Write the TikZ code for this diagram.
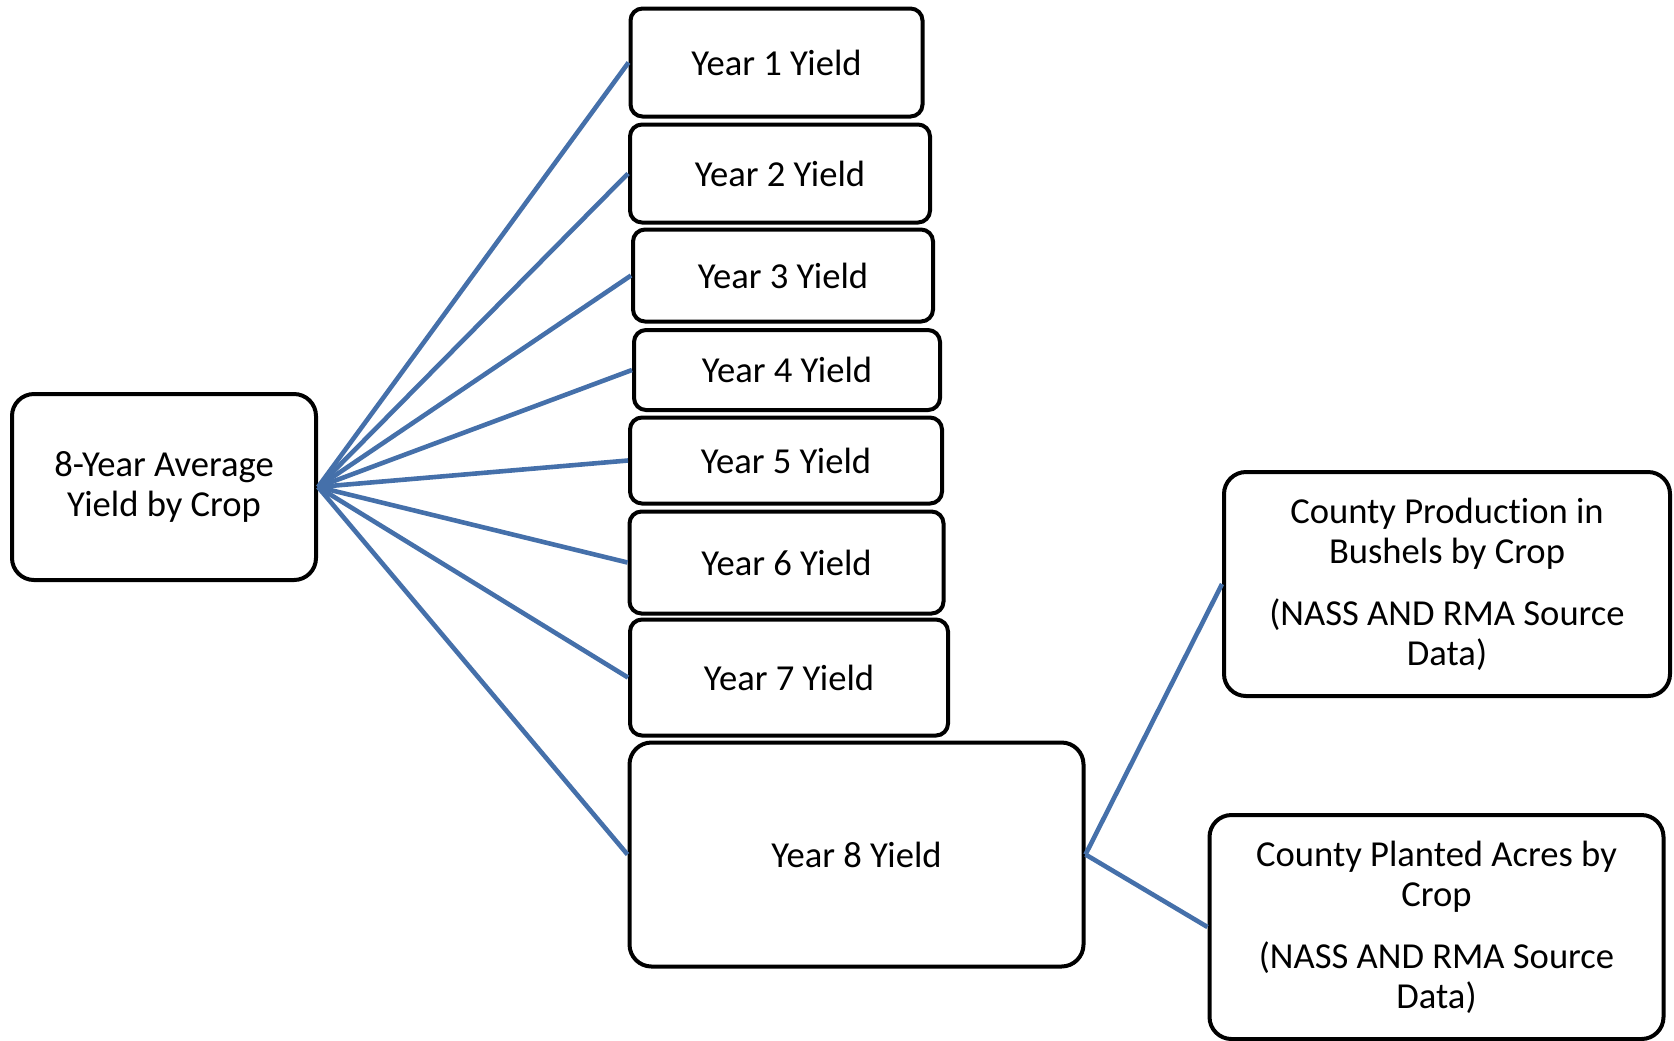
\documentclass[tikz,border=0pt]{standalone}
\usepackage{fontspec}
\setmainfont{Carlito}[Ligatures=NoCommon]
\usepackage{tikz}

\definecolor{linkblue}{HTML}{4570AA}

\begin{document}
\begin{tikzpicture}[x=0.5pt,y=-0.5pt,
    box/.style={draw,line width=2pt,rounded corners=6pt,inner sep=0pt,align=center,
        font=\fontsize{18.3}{20}\selectfont},
    bigbox/.style={box,rounded corners=11pt},
    link/.style={draw=linkblue,line width=2.3pt}]
    \useasboundingbox (0,0) rectangle (1674,1040);

    \node[bigbox,minimum width=152pt,minimum height=93pt] (avg) at (164,487) {8-Year Average\\Yield by Crop};
    \node[box,minimum width=146pt,minimum height=54pt] (y1) at (776.5,62.5) {Year 1 Yield};
    \node[box,minimum width=150pt,minimum height=49pt] (y2) at (780,173.5) {Year 2 Yield};
    \node[box,minimum width=150pt,minimum height=46pt] (y3) at (783,275.5) {Year 3 Yield};
    \node[box,minimum width=153pt,minimum height=40pt] (y4) at (787,370) {Year 4 Yield};
    \node[box,minimum width=156pt,minimum height=43pt] (y5) at (786,460.5) {Year 5 Yield};
    \node[box,minimum width=157pt,minimum height=51pt] (y6) at (786.5,562.5) {Year 6 Yield};
    \node[box,minimum width=159pt,minimum height=58pt] (y7) at (789,677.5) {Year 7 Yield};
    \node[bigbox,minimum width=227pt,minimum height=112pt] (y8) at (856.5,854.5) {Year 8 Yield};
    \node[bigbox,minimum width=223pt,minimum height=112pt] (prod) at (1447,584)
        {County Production in\\Bushels by Crop\\[11pt](NASS AND RMA Source\\Data)};
    \node[bigbox,minimum width=227pt,minimum height=112pt] (acres) at (1436.5,927)
        {County Planted Acres by\\Crop\\[11pt](NASS AND RMA Source\\Data)};

    \draw[link] (avg.east) -- (y1.west);
    \draw[link] (avg.east) -- (y2.west);
    \draw[link] (avg.east) -- (y3.west);
    \draw[link] (avg.east) -- (y4.west);
    \draw[link] (avg.east) -- (y5.west);
    \draw[link] (avg.east) -- (y6.west);
    \draw[link] (avg.east) -- (y7.west);
    \draw[link] (avg.east) -- (y8.west);
    \draw[link] (y8.east) -- (prod.west);
    \draw[link] (y8.east) -- (acres.west);
\end{tikzpicture}
\end{document}
